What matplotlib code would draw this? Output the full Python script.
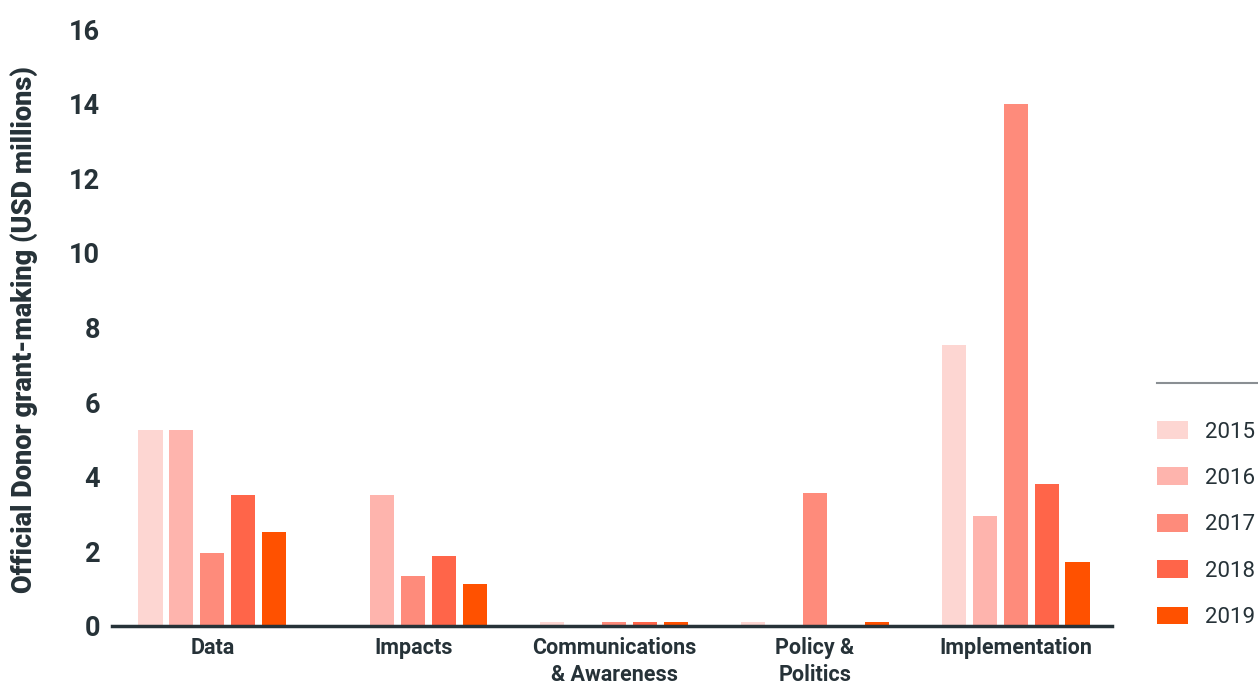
import matplotlib
matplotlib.use("Agg")
import matplotlib.pyplot as plt
import numpy as np
from matplotlib.patches import Patch
from matplotlib.lines import Line2D

categories = ["Data", "Impacts", "Communications\n& Awareness", "Policy &\nPolitics", "Implementation"]
years = ["2015", "2016", "2017", "2018", "2019"]
values = {
    "2015": [5.25, 0.0, 0.1, 0.1, 7.53],
    "2016": [5.25, 3.5, 0.0, 0.0, 2.95],
    "2017": [1.96, 1.34, 0.1, 3.57, 14.0],
    "2018": [3.5, 1.88, 0.1, 0.0, 3.81],
    "2019": [2.52, 1.13, 0.1, 0.1, 1.72],
}
colors = ["#FDD6D2", "#FEB4AD", "#FE8B7B", "#FF6549", "#FF5100"]
yticks = [0, 2, 4, 6, 8, 10, 12, 14, 16]

text_color = "#263238"
plt.rcParams['font.family'] = ['Roboto', 'DejaVu Sans']

fig = plt.figure(figsize=(12.58, 6.84), dpi=100)
ax = fig.add_axes([0.089, 0.0848, 0.795, 0.8728])

x = np.arange(len(categories))
step = 0.154
width = 0.12
for i, (yr, c) in enumerate(zip(years, colors)):
    ax.bar(x + (i - 2) * step, values[yr], width=width, color=c, zorder=2)

ax.set_xlim(-0.5, 4.48)
ax.set_ylim(0, 16)
ax.set_yticks(yticks)
ax.set_yticklabels([str(t) for t in yticks], fontsize=19.5, fontweight='bold', color=text_color)
ax.set_xticks(x)
ax.set_xticklabels(categories, fontsize=15.5, fontweight='bold', color=text_color, linespacing=1.3)
ax.tick_params(axis='both', length=0)
ax.tick_params(axis='y', pad=8.5)
ax.tick_params(axis='x', pad=8)
for s in ['top', 'right', 'left']:
    ax.spines[s].set_visible(False)
ax.spines['bottom'].set_color(text_color)
ax.spines['bottom'].set_linewidth(2.5)
ax.spines['bottom'].set_zorder(3)

fig.text(0.019, 1 - 330 / 684, "Official Donor grant-making (USD millions)", rotation=90,
         fontsize=19.5, fontweight='heavy', color=text_color, ha='center', va='center')

# legend separator line
fig.add_artist(Line2D([1157/1258, 1.0], [1 - 383/684, 1 - 383/684], color="#8a8f93", lw=1.5))

handles = [Patch(facecolor=c, edgecolor='none') for c in colors]
leg = fig.legend(handles, years, loc='upper left', bbox_to_anchor=(1157/1258, 1 - 421/684),
                 frameon=False, fontsize=16, handlelength=1.4, handleheight=0.85,
                 handletextpad=0.75, labelspacing=1.12, borderaxespad=0, borderpad=0)
for t in leg.get_texts():
    t.set_color(text_color)

fig.savefig("out.png", dpi=100)
